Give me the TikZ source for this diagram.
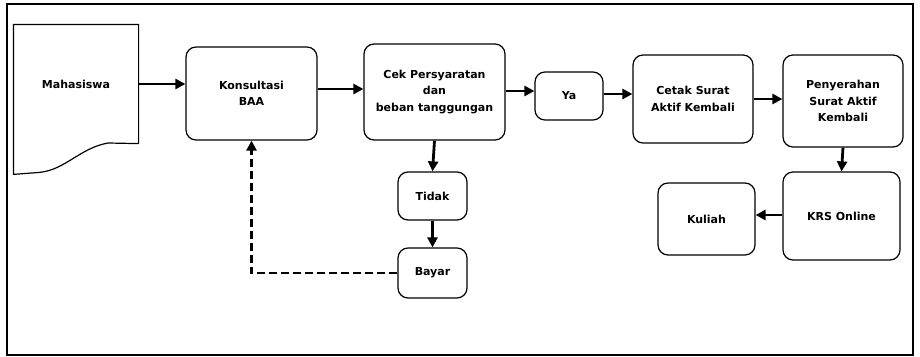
\documentclass[tikz,border=0pt]{standalone}
\usepackage{fontspec}
\setmainfont{DejaVu Sans}
\usetikzlibrary{arrows.meta}

\tikzset{
	box/.style={draw, line width=1.2pt, rounded corners=10pt, align=center,
		inner sep=2pt, font=\bfseries\fontsize{11}{16.5}\selectfont},
	flow/.style={line width=2.8pt, -{Triangle[length=10pt,width=10pt]}},
	back/.style={flow, dash pattern=on 8pt off 4pt}
}

\begin{document}
\begin{tikzpicture}[x=1pt, y=-1pt]

\def\width{920}
\def\height{356}

\path [use as bounding box] (0,0) rectangle (\width,\height);

% FRAME
\draw [line width=1.3pt] (7,4) rectangle (913,355);

% NODES
\node [box, draw=none, minimum width=124pt, minimum height=118pt] (mhs) at (76,84) {Mahasiswa};
\draw [line width=1.2pt] (mhs.south east) -- (mhs.north east) -- (mhs.north west)
	-- ++(0,150) -- ++(26,-2) .. controls (65,170) and (80,148) .. (108,143) -- (mhs.south east);

\node [box, minimum width=131pt, minimum height=93pt] (kons) at (251.5,93.5) {Konsultasi\\BAA};
\node [box, minimum width=141pt, minimum height=96pt] (cek) at (434.5,92) {Cek Persyaratan\\dan\\beban tanggungan};
\node [box, minimum width=68pt, minimum height=48pt] (ya) at (569,96) {Ya};
\node [box, minimum width=120pt, minimum height=88pt] (cetak) at (693,99) {Cetak Surat\\Aktif Kembali};
\node [box, minimum width=120pt, minimum height=92pt] (serah) at (843,101) {Penyerahan\\Surat Aktif\\Kembali};
\node [box, minimum width=117pt, minimum height=88pt] (krs) at (841.5,216) {KRS Online};
\node [box, minimum width=97pt, minimum height=72pt] (kuliah) at (706.5,219) {Kuliah};
\node [box, minimum width=69pt, minimum height=48pt] (tidak) at (432.5,196) {Tidak};
\node [box, minimum width=69pt, minimum height=50pt] (bayar) at (432.5,273) {Bayar};

% ARROWS
\draw [flow] (mhs.east) -- (mhs.east -| kons.west);
\draw [flow] (kons.east |- 0,89) -- (cek.west |- 0,89);
\draw [flow] (cek.east |- 0,91) -- (ya.west |- 0,91);
\draw [flow] (ya.east |- 0,94) -- (cetak.west |- 0,94);
\draw [flow] (cetak.east |- 0,99) -- (serah.west |- 0,99);
\draw [flow] (serah.south) -- (krs.north);
\draw [flow] (krs.west |- 0,215) -- (kuliah.east |- 0,215);
\draw [flow] (cek.south) -- (tidak.north);
\draw [flow] (tidak.south) -- (bayar.north);
\draw [back] (bayar.west) -| (kons.south);

\end{tikzpicture}
\end{document}
